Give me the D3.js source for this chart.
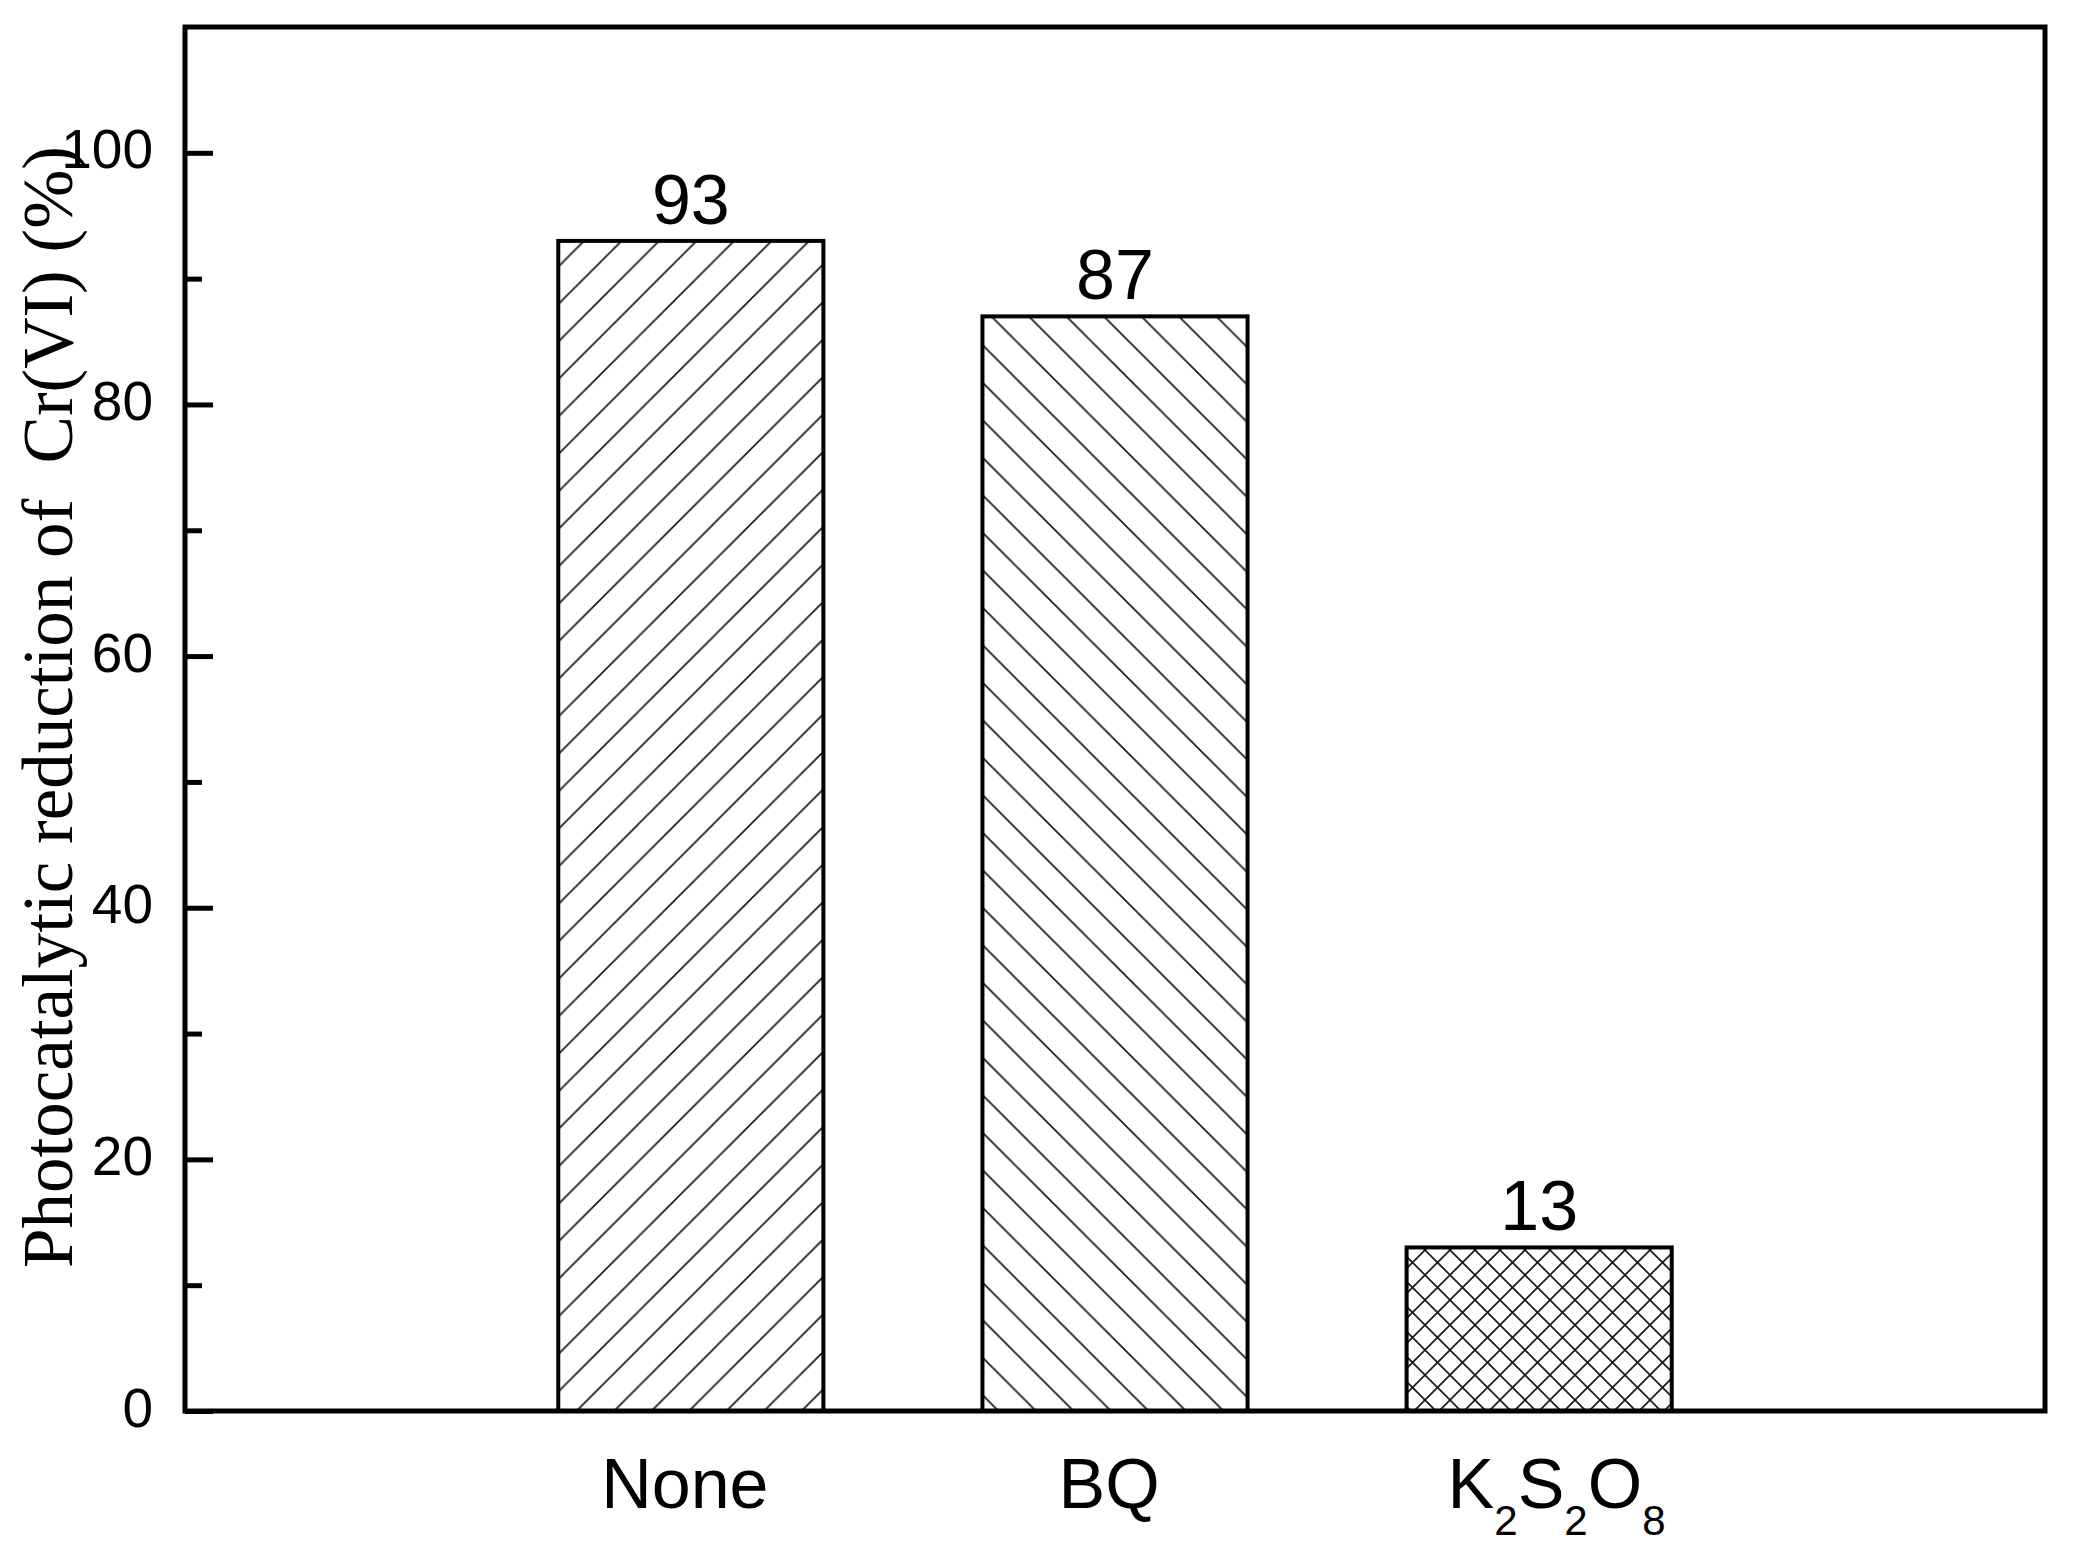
<!DOCTYPE html>
<html>
<head>
<meta charset="utf-8">
<script src="https://cdn.jsdelivr.net/npm/d3@7"></script>
<style>
  html, body { margin: 0; padding: 0; background: #ffffff; }
  svg { display: block; }
</style>
</head>
<body>
<svg id="chart" width="2075" height="1557"></svg>
<script>
// ---- data ----
const categories = ["None", "BQ", "K2S2O8"];
const values = [93, 87, 13];
const valueLabels = ["93", "87", "13"];
const majorTicks = [0, 20, 40, 60, 80, 100];
const minorTicks = [10, 30, 50, 70, 90];
const patterns = ["hatchF", "hatchB", "cross"];
const yTitle = "Photocatalytic reduction of  Cr(VI) (%)";

// ---- layout ----
const W = 2075, H = 1557;
const plot = { left: 185, right: 2045, top: 27, bottom: 1411 };

const svg = d3.select("#chart");
svg.append("rect").attr("width", W).attr("height", H).attr("fill", "#ffffff");

const y = d3.scaleLinear().domain([0, 110]).range([plot.bottom, plot.top]);
const x = d3.scaleBand().domain(categories)
  .range([plot.left, plot.right])
  .paddingInner(0.375).paddingOuter(0.88);

// ---- patterns ----
const defs = svg.append("defs");
function hatch(id, size, paths) {
  const p = defs.append("pattern").attr("id", id)
    .attr("patternUnits", "userSpaceOnUse")
    .attr("width", size).attr("height", size);
  p.append("rect").attr("width", size).attr("height", size).attr("fill", "#fff");
  paths.forEach(d => p.append("path").attr("d", d)
    .attr("stroke", "#1a1a1a").attr("stroke-width", 1.7).attr("fill", "none"));
}
const s1 = 37.5;
hatch("hatchF", s1, [`M0,${s1} L${s1},0`, `M-5,5 L5,-5`, `M${s1-5},${s1+5} L${s1+5},${s1-5}`]);
hatch("hatchB", s1, [`M0,0 L${s1},${s1}`, `M-5,${s1-5} L5,${s1+5}`, `M${s1-5},-5 L${s1+5},5`]);
const s2 = 25;
hatch("cross", s2, [`M0,${s2} L${s2},0`, `M-4,4 L4,-4`, `M${s2-4},${s2+4} L${s2+4},${s2-4}`,
                    `M0,0 L${s2},${s2}`, `M-4,${s2-4} L4,${s2+4}`, `M${s2-4},-4 L${s2+4},4`]);

// ---- bars ----
svg.append("g").selectAll("rect").data(categories).join("rect")
  .attr("x", d => x(d))
  .attr("y", (d, i) => y(values[i]))
  .attr("width", x.bandwidth())
  .attr("height", (d, i) => y(0) - y(values[i]))
  .attr("fill", (d, i) => `url(#${patterns[i]})`)
  .attr("stroke", "#000").attr("stroke-width", 4);

// ---- value labels ----
svg.append("g").selectAll("text").data(categories).join("text")
  .attr("x", d => x(d) + x.bandwidth() / 2)
  .attr("y", (d, i) => y(values[i]) - 17)
  .attr("text-anchor", "middle")
  .attr("font-family", "'Liberation Sans', Arial, sans-serif")
  .attr("font-size", 70)
  .attr("fill", "#000")
  .text((d, i) => valueLabels[i]);

// ---- frame ----
svg.append("rect")
  .attr("x", plot.left).attr("y", plot.top)
  .attr("width", plot.right - plot.left).attr("height", plot.bottom - plot.top)
  .attr("fill", "none").attr("stroke", "#000").attr("stroke-width", 5);

// ---- y axis ----
const yAxis = svg.append("g").attr("transform", `translate(${plot.left},0)`)
  .call(d3.axisLeft(y).tickValues(majorTicks).tickSize(-28).tickPadding(32).tickFormat(d3.format("d")));
yAxis.select(".domain").remove();
yAxis.selectAll(".tick line").attr("stroke", "#000").attr("stroke-width", 5);
yAxis.selectAll(".tick text")
  .attr("font-family", "'Liberation Sans', Arial, sans-serif")
  .attr("font-size", 55).attr("fill", "#000")
  .attr("dy", 15);

const yMinor = svg.append("g").attr("transform", `translate(${plot.left},0)`)
  .call(d3.axisLeft(y).tickValues(minorTicks).tickSize(-17).tickFormat(""));
yMinor.select(".domain").remove();
yMinor.selectAll(".tick line").attr("stroke", "#000").attr("stroke-width", 5);

// ---- x axis labels ----
const xAxis = svg.append("g").attr("transform", `translate(0,${plot.bottom})`)
  .call(d3.axisBottom(x).tickSize(0).tickPadding(0).tickFormat(""));
xAxis.select(".domain").remove();
xAxis.selectAll(".tick text").each(function(d) {
  const t = d3.select(this)
    .attr("y", 97).attr("dy", null)
    .attr("text-anchor", "middle")
    .attr("font-family", "'Liberation Sans', Arial, sans-serif")
    .attr("font-size", 70).attr("fill", "#000");
  const parts = d.match(/[A-Za-z]+|\d+/g);
  let sub = false, last = null;
  parts.forEach(p => {
    const isNum = /^\d+$/.test(p);
    const ts = t.append("tspan").text(p);
    if (isNum && !sub) { ts.attr("font-size", 42).attr("dy", 27); sub = true; }
    else if (!isNum && sub) { ts.attr("dy", -27); sub = false; }
    last = { node: ts.node(), isNum };
  });
  // centre on the main text, as in the original (trailing subscript hangs right)
  let shift = -6;
  if (last && last.isNum) shift += last.node.getComputedTextLength();
  t.attr("x", shift);
});

// ---- y title ----
svg.append("text")
  .attr("transform", `translate(72,${(plot.top + plot.bottom) / 2 - 12}) rotate(-90)`)
  .attr("text-anchor", "middle")
  .attr("font-family", "'Liberation Serif', 'Times New Roman', serif")
  .attr("font-size", 71)
  .attr("fill", "#000")
  .style("white-space", "pre")
  .text(yTitle);
</script>
</body>
</html>
